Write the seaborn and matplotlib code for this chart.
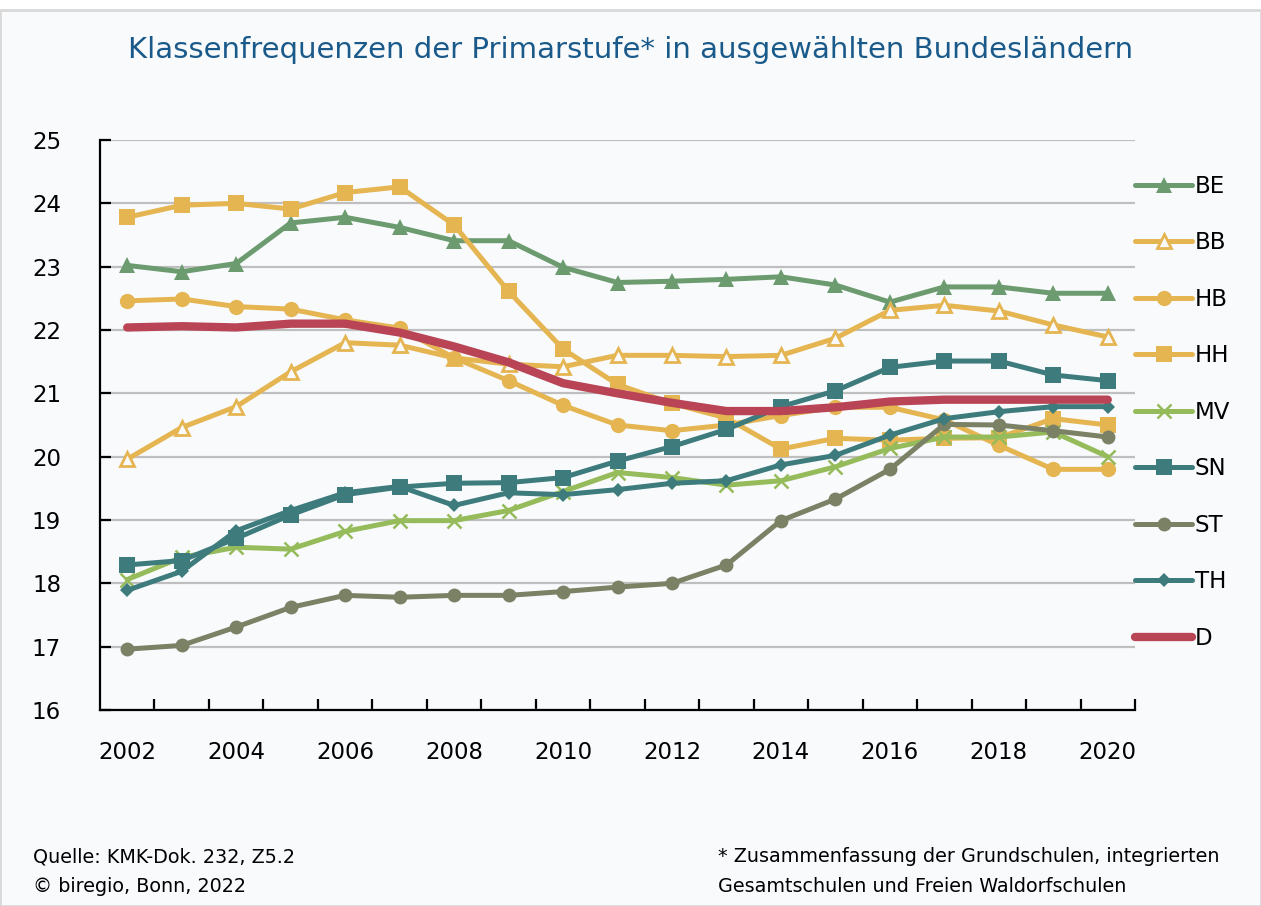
import matplotlib
matplotlib.use("Agg")
import matplotlib.pyplot as plt
import numpy as np
import pandas as pd
import seaborn as sns
from matplotlib.patches import Rectangle

years = list(range(2002, 2021))

be = [23.02, 22.92, 23.05, 23.69, 23.78, 23.62, 23.41, 23.41, 22.99, 22.75, 22.77, 22.80,
      22.84, 22.71, 22.44, 22.68, 22.68, 22.58, 22.58]
bb = [19.96, 20.46, 20.79, 21.34, 21.80, 21.76, 21.56, 21.46, 21.42, 21.60, 21.60, 21.58,
      21.60, 21.87, 22.31, 22.39, 22.30, 22.08, 21.89]
hb = [22.46, 22.49, 22.37, 22.33, 22.16, 22.03, 21.56, 21.20, 20.81, 20.50, 20.41, 20.50,
      20.65, 20.78, 20.78, 20.58, 20.18, 19.80, 19.80]
hh = [23.78, 23.97, 24.00, 23.91, 24.17, 24.26, 23.66, 22.61, 21.70, 21.14, 20.84, 20.61,
      20.12, 20.29, 20.26, 20.29, 20.30, 20.60, 20.50]
mv = [18.06, 18.41, 18.57, 18.54, 18.82, 18.99, 18.99, 19.15, 19.45, 19.75, 19.67, 19.55,
      19.62, 19.84, 20.13, 20.31, 20.31, 20.39, 20.00]
sn = [18.29, 18.36, 18.71, 19.08, 19.40, 19.52, 19.58, 19.59, 19.67, 19.93, 20.16, 20.43,
      20.79, 21.04, 21.41, 21.51, 21.51, 21.29, 21.20]
st = [16.96, 17.02, 17.31, 17.62, 17.81, 17.78, 17.81, 17.81, 17.87, 17.94, 18.00, 18.29,
      18.99, 19.33, 19.80, 20.51, 20.50, 20.41, 20.31]
th = [17.89, 18.19, 18.83, 19.15, 19.43, 19.53, 19.23, 19.43, 19.40, 19.48, 19.58, 19.62,
      19.87, 20.02, 20.34, 20.60, 20.71, 20.79, 20.79]
d = [22.04, 22.06, 22.04, 22.10, 22.10, 21.96, 21.74, 21.49, 21.16, 21.00, 20.85, 20.72,
     20.72, 20.78, 20.87, 20.90, 20.90, 20.90, 20.90]

bg = "#f8fafc"
yellow = "#e5b552"
teal = "#3d7b7d"

# label, values, colour, marker, markersize, face
series = [
    ("BE", be, "#6b9b6f", "^", 11, None),
    ("BB", bb, yellow, "^", 10, bg),
    ("HB", hb, yellow, "o", 11, None),
    ("HH", hh, yellow, "s", 11, None),
    ("MV", mv, "#95bb5a", "x", 10, None),
    ("SN", sn, teal, "s", 11, None),
    ("ST", st, "#7a8165", "o", 10, None),
    ("TH", th, teal, "D", 7.5, None),
]

sns.set_theme(style="white")
plt.rcParams["font.family"] = ["DejaVu Sans"]
plt.rcParams["text.color"] = "black"
plt.rcParams["xtick.color"] = "black"
plt.rcParams["ytick.color"] = "black"

fig = plt.figure(figsize=(12.61, 9.06), dpi=100)
fig.patch.set_facecolor("white")
fig.patches.append(Rectangle((0, 0), 1, 1 - 10 / 906, transform=fig.transFigure,
                             facecolor=bg, edgecolor="#d9d9d9", linewidth=2, zorder=-10))

ax = fig.add_axes([100 / 1261, 1 - 710 / 906, 1035 / 1261, 570 / 906])
ax.set_facecolor("none")

for name, vals, col, mk, ms, face in series:
    df = pd.DataFrame({"Jahr": years, "Wert": vals})
    kw = dict(marker=mk, markersize=ms, color=col, linewidth=3.6, label=name,
              markeredgecolor=col)
    if face is not None:
        kw["markerfacecolor"] = face
        kw["markeredgewidth"] = 2
    elif mk == "x":
        kw["markeredgewidth"] = 1.8
    else:
        kw["markeredgewidth"] = 0
    sns.lineplot(data=df, x="Jahr", y="Wert", ax=ax, **kw)

df_d = pd.DataFrame({"Jahr": years, "Wert": d})
sns.lineplot(data=df_d, x="Jahr", y="Wert", ax=ax, color="#b84456", linewidth=6,
             label="D", solid_capstyle="round")

ax.set_xlim(2001.5, 2020.5)
ax.set_ylim(16, 25)
ax.set_yticks(range(16, 26))
ax.set_xticks(years[::2])
ax.set_xticks(np.arange(2002.5, 2020.6, 1), minor=True)
ax.set_xlabel("")
ax.set_ylabel("")
ax.yaxis.grid(True, color="#bfbfbf", linewidth=1.6)
ax.set_axisbelow(True)
for s in ["top", "right"]:
    ax.spines[s].set_visible(False)
for s in ["left", "bottom"]:
    ax.spines[s].set_color("black")
    ax.spines[s].set_linewidth(1.6)
ax.tick_params(axis="y", direction="in", length=8, width=1.6, color="black",
               labelcolor="black", labelsize=16.5, pad=28, left=True)
ax.tick_params(axis="x", which="major", length=0, labelsize=16.5, labelcolor="black", pad=22)
ax.tick_params(axis="x", which="minor", direction="in", length=8, width=1.6,
               color="black", bottom=True)

handles, labels = ax.get_legend_handles_labels()
ax.legend_.remove() if ax.legend_ else None
leg = fig.legend(handles, labels, loc="upper left", bbox_to_anchor=(1135 / 1261, 1 - 175 / 906),
                 frameon=False, fontsize=16.5, handlelength=2.5, handletextpad=0.1,
                 labelspacing=1.46, borderpad=0, borderaxespad=0, numpoints=1)
for t in leg.get_texts():
    t.set_color("black")

fig.text(631 / 1261, 1 - 50 / 906, "Klassenfrequenzen der Primarstufe* in ausgewählten Bundesländern",
         ha="center", va="center", fontsize=21, color="#1a5a8a")

fig.text(33 / 1261, 1 - 857 / 906, "Quelle: KMK-Dok. 232, Z5.2", ha="left", va="center",
         fontsize=13.8, color="black")
fig.text(33 / 1261, 1 - 887 / 906, "© biregio, Bonn, 2022", ha="left", va="center",
         fontsize=13.8, color="black")
fig.text(718 / 1261, 1 - 857 / 906, "* Zusammenfassung der Grundschulen, integrierten",
         ha="left", va="center", fontsize=13.8, color="black")
fig.text(718 / 1261, 1 - 887 / 906, "Gesamtschulen und Freien Waldorfschulen",
         ha="left", va="center", fontsize=13.8, color="black")

fig.savefig("out.png", dpi=100, facecolor=fig.get_facecolor())
